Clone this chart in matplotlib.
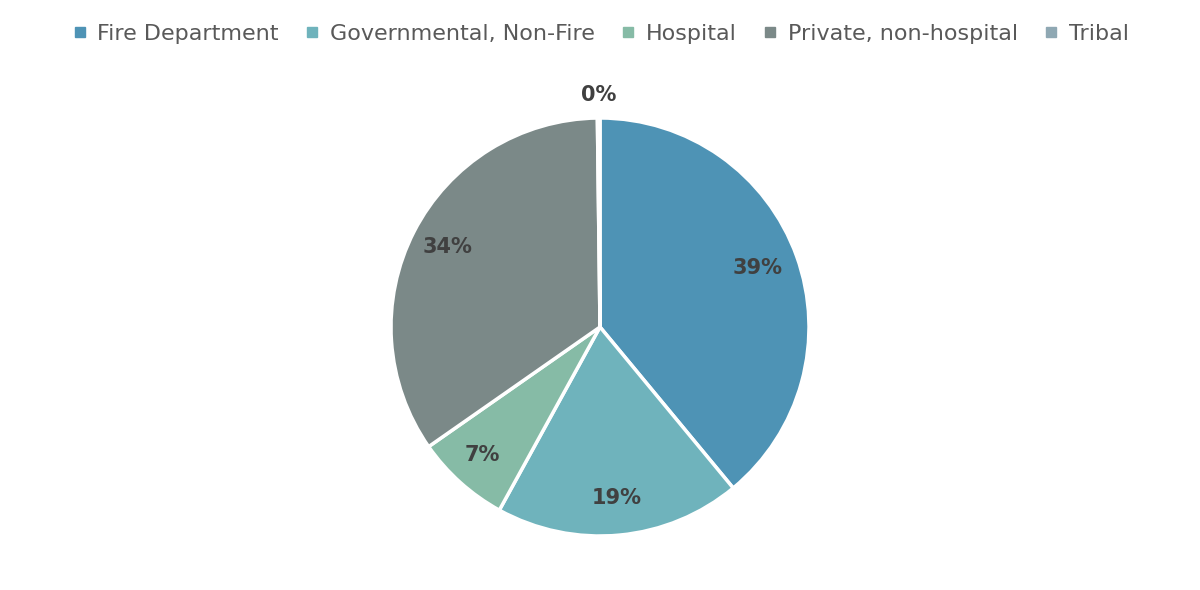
import matplotlib
matplotlib.use("Agg")
import matplotlib.pyplot as plt
from matplotlib.lines import Line2D
import numpy as np

categories = ["Fire Department", "Governmental, Non-Fire", "Hospital", "Private, non-hospital", "Tribal"]
values = [39.0, 19.0, 7.3, 34.5, 0.2]
labels = ["39%", "19%", "7%", "34%", "0%"]
colors = ["#4E93B5", "#6FB3BC", "#86BBA6", "#7B8988", "#8FA8B3"]

plt.rcParams['font.family'] = ['DejaVu Sans']
fig = plt.figure(figsize=(12, 5.9), dpi=100)
fig.patch.set_facecolor("white")
R = 209
cx, cy = 600, 327
ax = fig.add_axes([(cx - R) / 1200, (590 - cy - R) / 590, 2 * R / 1200, 2 * R / 590])
wedges, _ = ax.pie(values, colors=colors, startangle=90, counterclock=False,
                   radius=1.0, wedgeprops=dict(edgecolor="white", linewidth=2.5))
ax.set_xlim(-1, 1)
ax.set_ylim(-1, 1)
ax.set_aspect("equal")
ax.axis("off")

dists = [0.80, 0.83, 0.84, 0.82, 1.10]
cum = 0
total = sum(values)
for v, lab, d in zip(values, labels, dists):
    mid = (cum + v / 2) / total * 360
    th = np.deg2rad(90 - mid)
    ax.text(d * np.cos(th), d * np.sin(th) + 0.01, lab, ha="center", va="center",
            fontsize=15, fontweight="bold", color="#404040")
    cum += v

handles = [Line2D([0], [0], marker="s", linestyle="none", markersize=7,
                  markerfacecolor=c, markeredgecolor=c) for c in colors]
fig.legend(handles, categories, loc="center", bbox_to_anchor=(0.5, 1 - 34 / 590),
           ncol=5, frameon=False, fontsize=16, labelcolor="#595959",
           handletextpad=0.4, columnspacing=1.1, handlelength=0.8)
fig.savefig("out.png", dpi=100)
